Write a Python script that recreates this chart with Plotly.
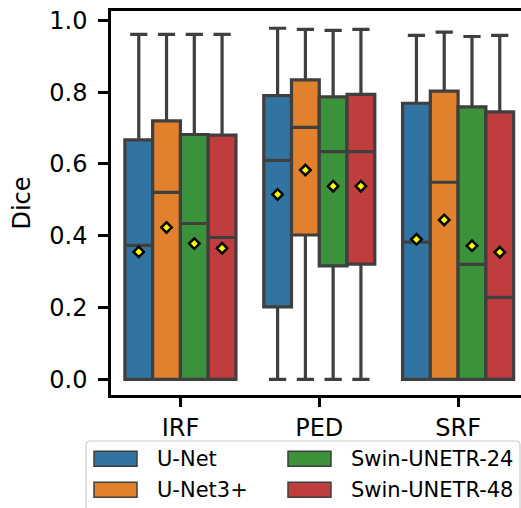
import plotly.graph_objects as go

# ---------------- data ----------------
categories = ["IRF", "PED", "SRF"]
models = ["U-Net", "U-Net3+", "Swin-UNETR-24", "Swin-UNETR-48"]
colors = ["#3274a1", "#e1812c", "#3a923a", "#c03d3e"]

# per model: values for IRF, PED, SRF
unet_lower = [0.0, 0.0, 0.0]
unet_q1 = [0.0, 0.202, 0.0]
unet_median = [0.373, 0.610, 0.382]
unet_q3 = [0.667, 0.790, 0.769]
unet_upper = [0.961, 0.978, 0.958]
unet_mean = [0.355, 0.515, 0.390]

unet3p_lower = [0.0, 0.0, 0.0]
unet3p_q1 = [0.0, 0.402, 0.0]
unet3p_median = [0.521, 0.702, 0.549]
unet3p_q3 = [0.720, 0.834, 0.803]
unet3p_upper = [0.961, 0.975, 0.967]
unet3p_mean = [0.423, 0.583, 0.444]

swin24_lower = [0.0, 0.0, 0.0]
swin24_q1 = [0.0, 0.316, 0.0]
swin24_median = [0.434, 0.634, 0.320]
swin24_q3 = [0.682, 0.787, 0.759]
swin24_upper = [0.961, 0.972, 0.955]
swin24_mean = [0.378, 0.538, 0.372]

swin48_lower = [0.0, 0.0, 0.0]
swin48_q1 = [0.0, 0.321, 0.0]
swin48_median = [0.395, 0.634, 0.228]
swin48_q3 = [0.680, 0.794, 0.745]
swin48_upper = [0.961, 0.975, 0.958]
swin48_mean = [0.365, 0.538, 0.354]

y_ticks = [0.0, 0.2, 0.4, 0.6, 0.8, 1.0]

stats = [
    (unet_lower, unet_q1, unet_median, unet_q3, unet_upper, unet_mean),
    (unet3p_lower, unet3p_q1, unet3p_median, unet3p_q3, unet3p_upper, unet3p_mean),
    (swin24_lower, swin24_q1, swin24_median, swin24_q3, swin24_upper, swin24_mean),
    (swin48_lower, swin48_q1, swin48_median, swin48_q3, swin48_upper, swin48_mean),
]

# ---------------- layout geometry ----------------
W_FIG, H_FIG = 521, 508
M_L, M_R, M_T, M_B = 111, 0, 11, 113
PW = W_FIG - M_L - M_R
PH = H_FIG - M_T - M_B
FONT = "DejaVu Sans"
EDGE = "#3f3f3f"

n_h = len(models)
box_w = 0.8 / n_h

fig = go.Figure()
for j, (name, col, st) in enumerate(zip(models, colors, stats)):
    lo, q1, med, q3, up, mean = st
    xs = [i + (j - (n_h - 1) / 2) * box_w for i in range(len(categories))]
    fig.add_trace(go.Box(
        x=xs, lowerfence=lo, q1=q1, median=med, q3=q3, upperfence=up,
        width=box_w, fillcolor=col, line=dict(color=EDGE, width=3.2),
        whiskerwidth=0.62, name=name, showlegend=False, boxpoints=False,
    ))
    fig.add_trace(go.Scatter(
        x=xs, y=mean, mode="markers", showlegend=False,
        marker=dict(symbol="diamond", size=8, color="#ffff00",
                    line=dict(color="black", width=2.5)),
    ))


def px(x):
    return (x - M_L) / PW


def py(y):
    return (H_FIG - M_B - y) / PH


# ---------------- legend (drawn) ----------------
shapes = []
annotations = []
lx0, lx1, ly0, ly1, r = 86, 520, 441, 540, 4
path = (f"M {px(lx0)},{py(ly1)} L {px(lx0)},{py(ly0 + r)} "
        f"Q {px(lx0)},{py(ly0)} {px(lx0 + r)},{py(ly0)} "
        f"L {px(lx1 - r)},{py(ly0)} Q {px(lx1)},{py(ly0)} {px(lx1)},{py(ly0 + r)} "
        f"L {px(lx1)},{py(ly1)} Z")
shapes.append(dict(type="path", xref="paper", yref="paper", path=path,
                   line=dict(color="#cccccc", width=1.2), fillcolor="white",
                   layer="above"))
col_patch_x = [94, 288]
col_text_x = [155, 349]
row_y = [458.7, 489.7]
for j, (name, col) in enumerate(zip(models, colors)):
    c, rr = j // 2, j % 2
    x0 = col_patch_x[c]
    yc = row_y[rr]
    shapes.append(dict(type="rect", xref="paper", yref="paper",
                       x0=px(x0), x1=px(x0 + 43), y0=py(yc - 7.5), y1=py(yc + 7.5),
                       fillcolor=col, line=dict(color=EDGE, width=1.5), layer="above"))
    annotations.append(dict(xref="paper", yref="paper", x=px(col_text_x[c]), y=py(yc),
                            text=name, showarrow=False, xanchor="left", yanchor="middle",
                            font=dict(family=FONT, size=21, color="black")))

fig.update_layout(
    width=W_FIG, height=H_FIG,
    margin=dict(l=M_L, r=M_R, t=M_T, b=M_B, pad=0),
    plot_bgcolor="white", paper_bgcolor="white",
    boxmode="overlay",
    font=dict(family=FONT, size=24, color="black"),
    shapes=shapes, annotations=annotations,
    xaxis=dict(range=[-0.5, 2.453], tickvals=list(range(len(categories))),
               ticktext=categories, ticks="outside", ticklen=9, tickwidth=2.5,
               tickcolor="black", showline=True, linecolor="black", linewidth=2.5,
               mirror=True, showgrid=False, zeroline=False,
               tickfont=dict(family=FONT, size=24, color="black")),
    yaxis=dict(range=[-0.0437, 1.026], tickvals=y_ticks,
               ticktext=[f"{v:.1f}" for v in y_ticks], ticks="outside", ticklen=10,
               tickwidth=2.5, tickcolor="black", showline=True, linecolor="black",
               linewidth=2.5, showgrid=False, zeroline=False, ticklabelstandoff=6,
               tickfont=dict(family=FONT, size=24, color="black"),
               title=dict(text="Dice", font=dict(family=FONT, size=24, color="black"),
                          standoff=12)),
)

fig.write_html(
    "out.html",
    config={"displayModeBar": False},
    post_script="document.body.style.margin='0';document.body.style.overflow='hidden';",
)
